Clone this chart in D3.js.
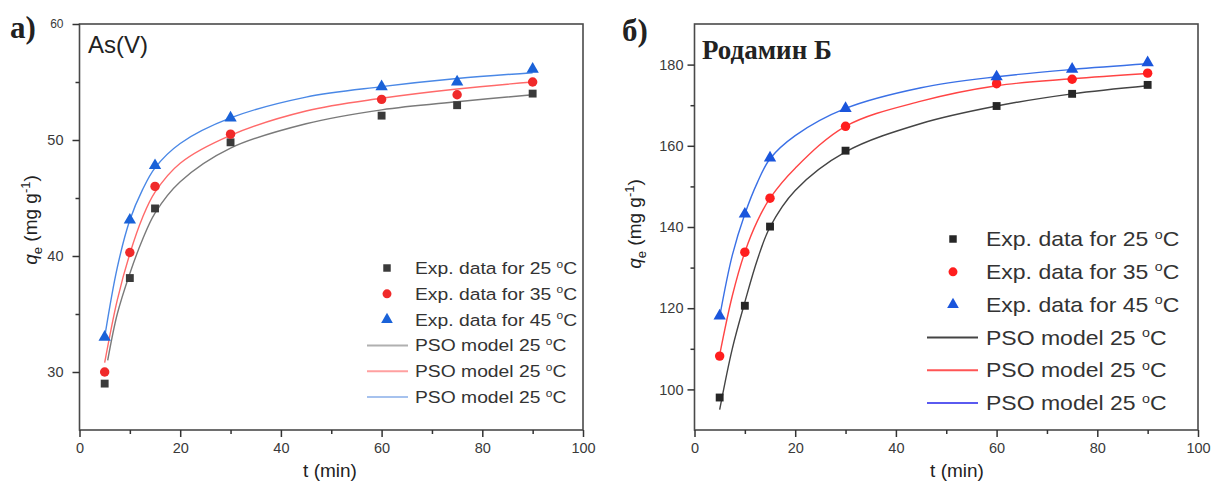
<!DOCTYPE html>
<html>
<head>
<meta charset="utf-8">
<script src="https://cdn.jsdelivr.net/npm/d3@7"></script>
<style>
  body { margin: 0; background: #fff; }
  svg { display: block; font-family: "Liberation Sans", Arial, sans-serif; }
</style>
</head>
<body>
<div id="chart"></div>
<script>
// experimental points
const timeExp = [5, 10, 15, 30, 60, 75, 90];
const asExp25 = [29.0, 38.1, 44.1, 49.8, 52.1, 53.0, 54.0];
const asExp35 = [30.0, 40.3, 46.0, 50.5, 53.5, 53.9, 55.0];
const asExp45 = [33.0, 43.1, 47.8, 51.9, 54.6, 55.0, 56.1];
const rbExp25 = [98.0, 120.6, 140.1, 158.8, 169.8, 172.8, 175.0];
const rbExp35 = [108.2, 133.8, 147.1, 164.8, 175.3, 176.4, 177.9];
const rbExp45 = [118.1, 143.2, 157.0, 169.2, 177.0, 178.9, 180.5];

// PSO model curves
const timeFit = [5, 7.5, 10, 12.5, 15, 20, 30, 45, 60, 75, 90];
const timeFitAs25 = [5.6, 7.5, 10, 12.5, 15, 20, 30, 45, 60, 75, 90];
const asFit25 = [31.0, 35.0, 38.5, 41.4, 43.7, 46.4, 49.3, 51.4, 52.6, 53.3, 53.9];
const asFit35 = [30.8, 36.2, 40.2, 43.3, 45.5, 48.0, 50.4, 52.5, 53.6, 54.4, 55.0];
const asFit45 = [33.0, 39.0, 43.1, 45.7, 47.6, 49.7, 51.9, 53.7, 54.6, 55.3, 55.8];
const rbFit25 = [95.0, 110.0, 121.5, 132.0, 140.0, 149.0, 158.5, 165.5, 169.8, 172.8, 174.8];
const rbFit35 = [108.5, 123.0, 133.8, 141.5, 147.1, 154.5, 164.8, 171.0, 174.8, 176.5, 177.8];
const rbFit45 = [117.9, 133.0, 143.2, 151.0, 156.8, 162.5, 169.2, 174.3, 177.0, 178.8, 180.2];

const expLabels = ["Exp. data for 25 ", "Exp. data for 35 ", "Exp. data for 45 "];
const fitLabels = ["PSO model 25 ", "PSO model 25 ", "PSO model 25 "];

const svg = d3.select("#chart").append("svg")
    .attr("width", 1213)
    .attr("height", 483);

const panels = [
    {
        tag: "a)", title: "As(V)", titleSerif: false,
        left: 79.5, right: 583, top: 24, bottom: 430,
        yDomain: [25, 60], yMajor: [30, 40, 50, 60], yMinor: [35, 45, 55],
        exp: [asExp25, asExp35, asExp45],
        fitT: [timeFitAs25, timeFit, timeFit],
        fit: [asFit25, asFit35, asFit45],
        markColors: ["#3a3a3a", "#f02a2a", "#1a62d8"],
        lineColors: ["#7a7a7a", "#ff6a6a", "#4a88e6"],
        legLineColors: ["#b0b0b0", "#ffa0a0", "#a6c2ee"],
        legSym: 387, legText: 415, legY0: 268, legStep: 25.8, legFont: 16.5, legStretch: 1.17,
        legLine: [367, 408],
        yPad: 9, tagX: 10, tagY: 38, titleX: 88, titleY: 53, titleSize: 24,
        yLabelX: 37, yLabelY: 220, xLabelX: 330
    },
    {
        tag: "б)", title: "Родамин Б", titleSerif: true,
        left: 694.5, right: 1198, top: 24, bottom: 430,
        yDomain: [90, 190], yMajor: [100, 120, 140, 160, 180], yMinor: [110, 130, 150, 170],
        exp: [rbExp25, rbExp35, rbExp45],
        fitT: [timeFit, timeFit, timeFit],
        fit: [rbFit25, rbFit35, rbFit45],
        markColors: ["#262626", "#ff1e1e", "#1a55dc"],
        lineColors: ["#444444", "#ff4444", "#3a70e6"],
        legLineColors: ["#444444", "#ff5555", "#5a5af0"],
        legSym: 953, legText: 986, legY0: 239, legStep: 32.8, legFont: 20, legStretch: 1.15,
        legLine: [927, 978],
        yPad: 4, tagX: 622, tagY: 41, titleX: 702, titleY: 59, titleSize: 27,
        yLabelX: 641, yLabelY: 224, xLabelX: 957
    }
];

const symbols = [d3.symbolSquare, d3.symbolCircle, d3.symbolTriangle];
const symSizes = [62, 70, 66];

function degLabel(sel, text, size) {
    sel.append("tspan").text(text);
    sel.append("tspan").text("o")
        .attr("font-size", size * 0.62)
        .attr("dy", -size * 0.38);
    sel.append("tspan").text("C")
        .attr("dy", size * 0.38);
}

panels.forEach(p => {
    const x = d3.scaleLinear().domain([0, 100]).range([p.left, p.right]);
    const y = d3.scaleLinear().domain(p.yDomain).range([p.bottom, p.top]);
    const g = svg.append("g");

    // frame
    g.append("rect")
        .attr("x", p.left).attr("y", p.top)
        .attr("width", p.right - p.left).attr("height", p.bottom - p.top)
        .attr("fill", "none").attr("stroke", "#4a4a4a").attr("stroke-width", 1.6);

    // bottom axis
    g.append("g")
        .attr("transform", `translate(0,${p.bottom})`)
        .call(d3.axisBottom(x).tickValues([0, 20, 40, 60, 80, 100]).tickSize(7).tickPadding(6));
    g.append("g")
        .attr("transform", `translate(0,${p.bottom})`)
        .call(d3.axisBottom(x).tickValues([10, 30, 50, 70, 90]).tickSize(4).tickFormat(""));

    // left axis
    const yAxis = g.append("g")
        .attr("transform", `translate(${p.left},0)`)
        .call(d3.axisLeft(y).tickValues(p.yMajor).tickSize(7).tickPadding(p.yPad));
    g.append("g")
        .attr("transform", `translate(${p.left},0)`)
        .call(d3.axisLeft(y).tickValues(p.yMinor).tickSize(4).tickFormat(""));

    g.selectAll(".domain").remove();
    g.selectAll(".tick line").attr("stroke", "#333").attr("stroke-width", 1.5);
    g.selectAll(".tick text")
        .attr("font-size", 14.5)
        .attr("font-family", "Liberation Sans, Arial, sans-serif")
        .attr("fill", "#3a3a3a");
    if (p.yDomain[1] === 60) {
        yAxis.selectAll(".tick text").filter(d => d === 60).attr("font-size", 12);
    }

    // fitted curves
    const line = d3.line().curve(d3.curveCatmullRom.alpha(0.5));
    p.fit.forEach((vals, i) => {
        const pts = vals.map((v, j) => [x(p.fitT[i][j]), y(v)]);
        g.append("path")
            .attr("d", line(pts))
            .attr("fill", "none")
            .attr("stroke", p.lineColors[i])
            .attr("stroke-width", 1.4);
    });

    // experimental points
    p.exp.forEach((vals, i) => {
        g.selectAll(null).data(vals).enter().append("path")
            .attr("d", d3.symbol().type(symbols[i]).size(symSizes[i]))
            .attr("transform", (d, j) => `translate(${x(timeExp[j])},${y(d)})`)
            .attr("fill", p.markColors[i]);
    });

    // legend
    const leg = g.append("g");
    const legText = (ly, label) => {
        leg.append("text")
            .attr("transform", `translate(${p.legText},${ly + p.legFont * 0.36}) scale(${p.legStretch},1)`)
            .attr("font-size", p.legFont).attr("fill", "#333")
            .call(degLabel, label, p.legFont);
    };
    for (let i = 0; i < 3; i++) {
        const ly = p.legY0 + i * p.legStep;
        leg.append("path")
            .attr("d", d3.symbol().type(symbols[i]).size(symSizes[i] * 0.9))
            .attr("transform", `translate(${p.legSym},${ly})`)
            .attr("fill", p.markColors[i]);
        legText(ly, expLabels[i]);
    }
    for (let i = 0; i < 3; i++) {
        const ly = p.legY0 + (i + 3) * p.legStep;
        leg.append("line")
            .attr("x1", p.legLine[0]).attr("x2", p.legLine[1])
            .attr("y1", ly).attr("y2", ly)
            .attr("stroke", p.legLineColors[i]).attr("stroke-width", 2);
        legText(ly, fitLabels[i]);
    }

    // axis titles
    g.append("text")
        .attr("x", p.xLabelX).attr("y", 477)
        .attr("text-anchor", "middle")
        .attr("font-size", 19).attr("fill", "#222")
        .text("t (min)");

    const yl = g.append("text")
        .attr("transform", `translate(${p.yLabelX},${p.yLabelY}) rotate(-90)`)
        .attr("text-anchor", "middle")
        .attr("font-size", 19).attr("fill", "#222");
    yl.append("tspan").text("q").attr("font-style", "italic");
    yl.append("tspan").text("e").attr("font-size", 13).attr("dy", 5);
    yl.append("tspan").text(" (mg g").attr("dy", -5);
    yl.append("tspan").text("-1").attr("font-size", 13).attr("dy", -7);
    yl.append("tspan").text(")").attr("dy", 7);

    // panel tag and title
    g.append("text")
        .attr("x", p.tagX).attr("y", p.tagY)
        .attr("font-family", "Liberation Serif, Times New Roman, serif")
        .attr("font-weight", "bold").attr("font-size", 31).attr("fill", "#222")
        .text(p.tag);
    g.append("text")
        .attr("x", p.titleX).attr("y", p.titleY)
        .attr("font-family", p.titleSerif ? "Liberation Serif, Times New Roman, serif" : "Liberation Sans, Arial, sans-serif")
        .attr("font-weight", p.titleSerif ? "bold" : "normal")
        .attr("font-size", p.titleSize).attr("fill", "#222")
        .text(p.title);
});
</script>
</body>
</html>
